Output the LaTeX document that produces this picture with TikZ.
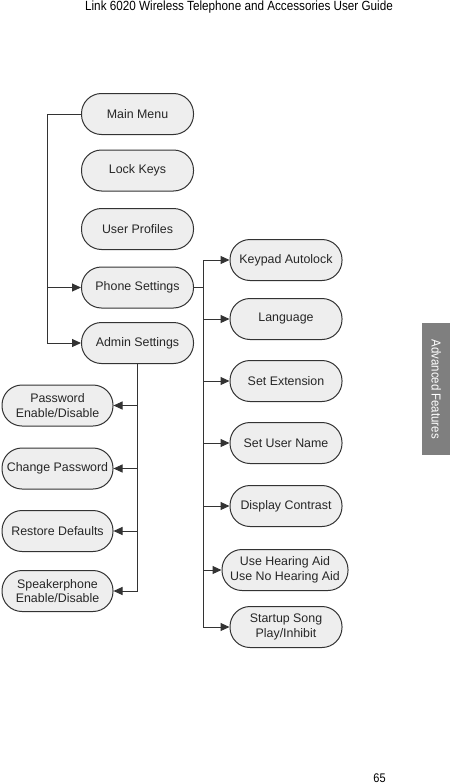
\documentclass[tikz,border=0pt]{standalone}
\usepackage{fontspec}
\setmainfont{Liberation Sans}
\newfontfamily\condfont[FakeStretch=0.88]{Liberation Sans}
\usetikzlibrary{arrows.meta}
\definecolor{boxfill}{HTML}{EEEEEE}
\definecolor{boxline}{HTML}{333333}
\definecolor{tabgray}{HTML}{7F7F7F}
\begin{document}
\begin{tikzpicture}[x=1pt,y=-1pt,
  menubox/.style={draw=boxline, line width=1pt, fill=boxfill, rounded corners=20pt,
    minimum width=112pt, minimum height=41pt, inner sep=0pt, align=center,
    font=\fontsize{12.4}{14.8}\selectfont, text=black!85},
  wide/.style={minimum width=126pt},
  conn/.style={draw=boxline, line width=1pt},
  arr/.style={conn, -{Triangle[length=9pt,width=8pt]}}]
\useasboundingbox (0,0) rectangle (450,784);
% header
\node[font=\condfont\fontsize{13.3}{15}\selectfont, anchor=center] (hdr) at (239,7.5) {Link 6020 Wireless Telephone and Accessories User Guide};
% side tab
\node[fill=tabgray, minimum width=28pt, minimum height=132pt, inner sep=0pt, anchor=north west] (tab) at (422,323) {};
\node[rotate=-90, text=white, font=\condfont\fontsize{13}{14}\selectfont] (tabtxt) at (tab.center) {Advanced Features};
% page number
\node[font=\condfont\fontsize{12.5}{15}\selectfont] (pg) at (379.5,778.5) {65};
% left column
\node[menubox] (main) at (137.5,114) {Main Menu};
\node[menubox] (lock) at (137.5,170.5) {Lock Keys};
\node[menubox] (prof) at (137.5,229) {User Profiles};
\node[menubox] (phone) at (137.5,287.5) {Phone Settings};
\node[menubox] (admin) at (137.5,343) {Admin Settings};
% right column
\node[menubox] (key) at (286,260) {Keypad Autolock};
\node[menubox] (lang) at (286,319) {Language};
\node[menubox] (ext) at (286,381) {Set Extension};
\node[menubox] (uname) at (286,443) {Set User Name};
\node[menubox] (disp) at (286,506) {Display Contrast};
\node[menubox, wide] (hear) at (285,570) {Use Hearing Aid\\Use No Hearing Aid};
\node[menubox] (song) at (286,627) {Startup Song\\Play/Inhibit};
% lower left column
\node[menubox, minimum width=111pt] (pass) at (57.5,405.5) {Password\\Enable/Disable};
\node[menubox, minimum width=111pt] (chg) at (57.5,468.5) {Change Password};
\node[menubox, minimum width=111pt] (rest) at (57.5,531) {Restore Defaults};
\node[menubox, minimum width=111pt] (spk) at (57.5,591) {Speakerphone\\Enable/Disable};
% connectors: left bus
\coordinate (lb) at (47,0);
\draw[conn] (main.west) -- (lb |- main) -- (lb |- admin);
\draw[arr] (lb |- phone) -- (phone.west);
\draw[arr] (lb |- admin) -- (admin.west);
% phone settings bus
\coordinate (pb) at (203,287.5);
\draw[conn] (phone.east) -- (pb);
\draw[conn] (pb |- key) -- (pb |- song);
\foreach \n in {key,lang,ext,uname,disp,hear,song}{
  \draw[arr] (pb |- \n) -- (\n.west);
}
% admin bus
\coordinate (ab) at (137.5,591);
\draw[conn] (admin.south) -- (ab);
\foreach \n in {pass,chg,rest,spk}{
  \draw[arr] (ab |- \n) -- (\n.east);
}
\end{tikzpicture}
\end{document}
